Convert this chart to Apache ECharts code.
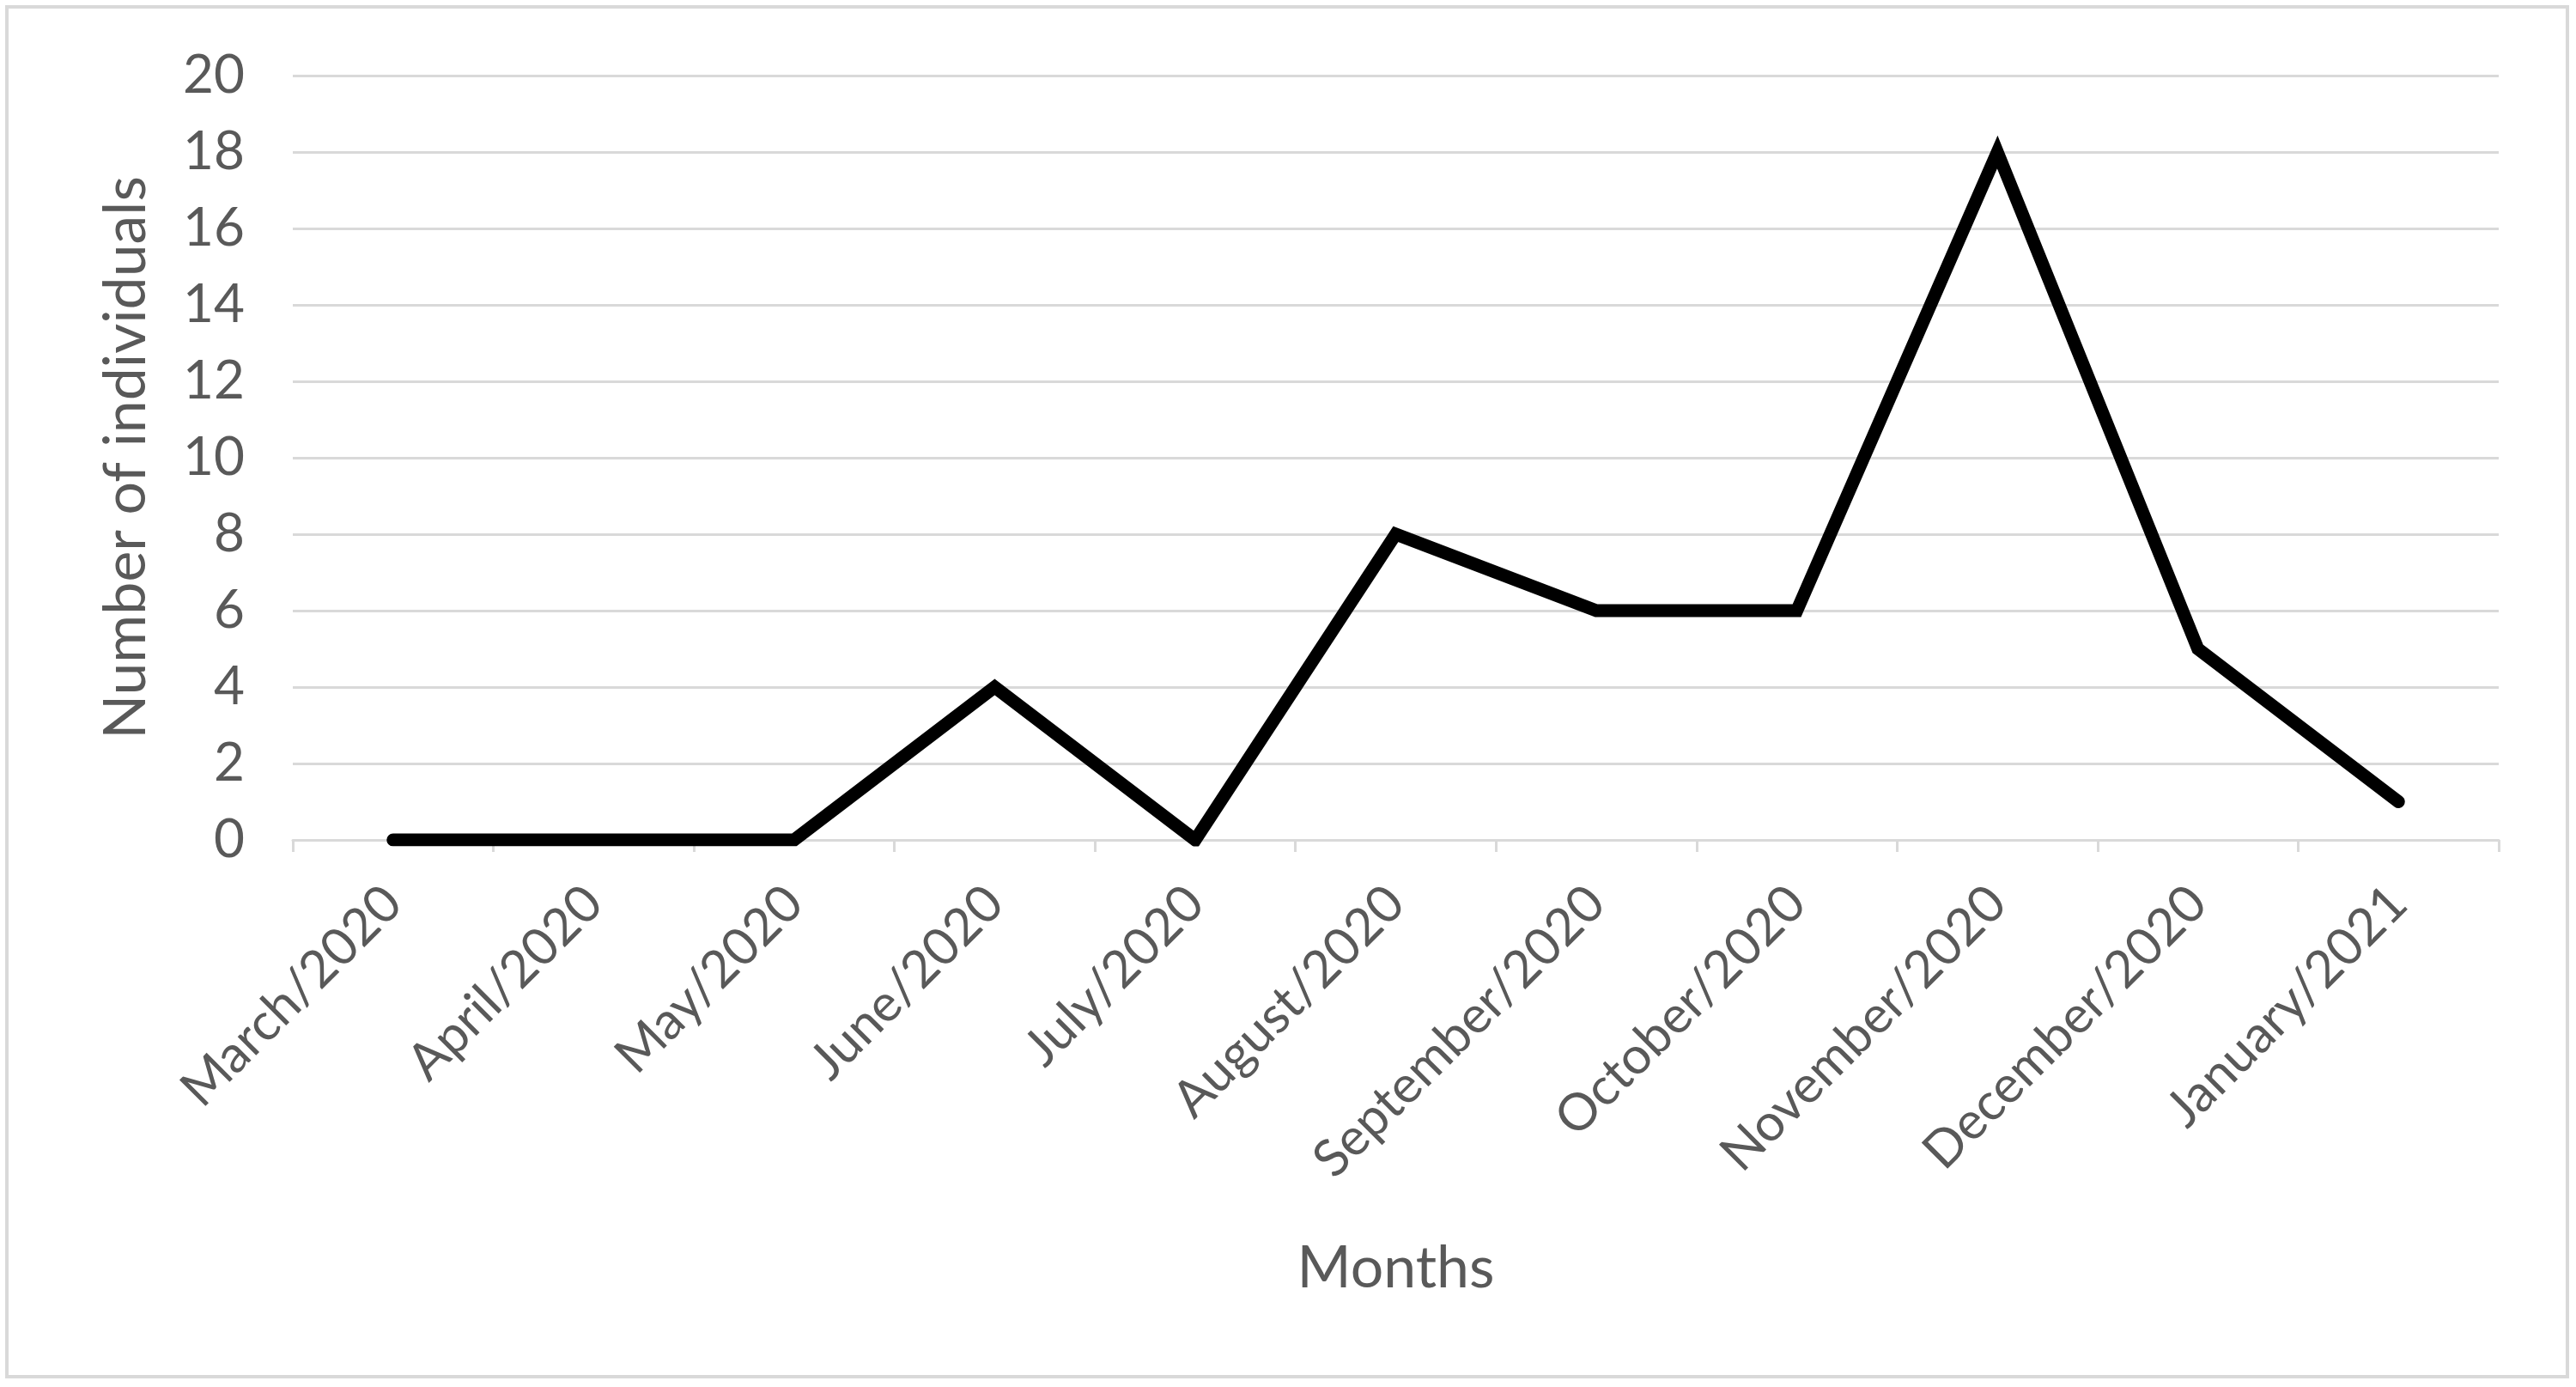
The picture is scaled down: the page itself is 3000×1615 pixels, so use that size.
<!DOCTYPE html>
<html>
<head>
<meta charset="utf-8">
<title>Number of individuals by month</title>
<script src="https://cdn.jsdelivr.net/npm/echarts@6/dist/echarts.min.js"></script>
<style>
  html, body { margin: 0; padding: 0; background: #fff; }
  #chart { width: 3000px; height: 1615px; }
</style>
</head>
<body>
<div id="chart"></div>
<script>
var months = [
  'March/2020', 'April/2020', 'May/2020', 'June/2020', 'July/2020',
  'August/2020', 'September/2020', 'October/2020', 'November/2020',
  'December/2020', 'January/2021'
]
var individuals = [0, 0, 0, 4, 0, 8, 6, 6, 18, 5, 1]

var gridGray = '#d9d9d9'
var textGray = '#595959'
var font = 'Lato'

var chart = echarts.init(document.getElementById('chart'))
chart.setOption({
  animation: false,
  backgroundColor: '#fff',
  textStyle: { fontFamily: font },
  graphic: [
    {
      // outer chart border
      type: 'rect',
      shape: { x: 8, y: 8, width: 2982, height: 1595 },
      style: { fill: 'none', stroke: gridGray, lineWidth: 4 }
    }
  ],
  grid: {
    left: 341,
    right: 90,
    top: 88,
    bottom: 637
  },
  xAxis: {
    type: 'category',
    data: months,
    boundaryGap: true,
    name: 'Months',
    nameLocation: 'middle',
    nameGap: 465,
    nameTextStyle: { fontSize: 68, color: textGray, fontFamily: font },
    axisLine: { lineStyle: { color: gridGray, width: 3 } },
    axisTick: { show: true, length: 14, lineStyle: { color: gridGray, width: 3 } },
    axisLabel: {
      rotate: 45,
      interval: 0,
      margin: 64,
      fontSize: 60,
      color: textGray,
      fontFamily: font
    }
  },
  yAxis: {
    type: 'value',
    min: 0,
    max: 20,
    interval: 2,
    name: 'Number of individuals',
    nameLocation: 'middle',
    nameGap: 160,
    nameTextStyle: { fontSize: 68, color: textGray, fontFamily: font },
    axisLine: { show: false },
    axisTick: { show: false },
    axisLabel: { fontSize: 62, color: textGray, margin: 56, fontFamily: font },
    splitLine: { lineStyle: { color: gridGray, width: 3 } }
  },
  series: [
    {
      name: 'Individuals',
      type: 'line',
      data: individuals,
      symbol: 'none',
      lineStyle: { color: '#000', width: 15, cap: 'round', join: 'miter' }
    }
  ]
})
</script>
</body>
</html>
